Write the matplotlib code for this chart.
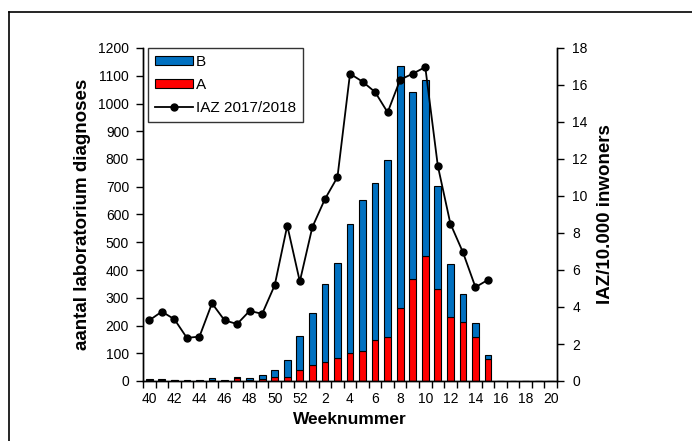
import numpy as np
import matplotlib
matplotlib.use("Agg")
import matplotlib.pyplot as plt
from matplotlib.lines import Line2D

plt.rcParams['font.family'] = ['Liberation Sans', 'DejaVu Sans']

# weeknummers seizoen 2017/2018
weken = list(range(40, 53)) + list(range(1, 21))
# aantal laboratorium diagnoses per week
influenza_a = [3, 3, 2, 1, 1, 4, 1, 10, 3, 6, 14, 14, 38, 58, 70, 83, 100, 107, 148, 159,
               263, 367, 450, 331, 232, 213, 160, 79, 0, 0, 0, 0, 0]
influenza_b = [3, 3, 2, 1, 2, 7, 2, 6, 7, 17, 26, 61, 123, 187, 281, 344, 464, 546, 566, 637,
               873, 675, 633, 370, 190, 101, 48, 15, 0, 0, 0, 0, 0]
# IAZ per 10.000 inwoners
iaz = [3.28, 3.75, 3.34, 2.33, 2.40, 4.20, 3.28, 3.08, 3.79, 3.63, 5.18, 8.40, 5.38,
       8.32, 9.83, 11.02, 16.61, 16.18, 15.62, 14.52, 16.29, 16.61, 16.97, 11.63,
       8.51, 6.96, 5.07, 5.47]

x = np.arange(len(weken))
blauw = '#0070C0'
rood = '#FF0000'

fig = plt.figure(figsize=(6.92, 4.41), dpi=100)
ax = fig.add_axes([143/692, 1-381/441, (557-143)/692, (381-48)/441])
ax2 = ax.twinx()

ax.bar(x, influenza_a, width=0.53, color=rood, edgecolor='black', linewidth=0.8, label='A')
ax.bar(x, influenza_b, width=0.53, bottom=influenza_a, color=blauw, edgecolor='black',
       linewidth=0.8, label='B')
ax2.plot(x[:len(iaz)], iaz, color='black', lw=1.3, marker='o', markersize=5,
         label='IAZ 2017/2018')

ax.set_xlim(-0.5, len(weken)-0.5)
ax.set_ylim(0, 1200)
ax2.set_ylim(0, 18)
ax.set_yticks(range(0, 1201, 100))
ax2.set_yticks(range(0, 19, 2))

ax.set_xticks(x[::2])
ax.set_xticklabels([str(w) for w in weken[::2]])
ax.set_xticks(np.arange(-0.5, len(weken), 1), minor=True)
ax.tick_params(axis='x', which='major', length=0, pad=8, labelsize=10)
ax.tick_params(axis='x', which='minor', length=5, width=1, direction='out')
ax.tick_params(axis='y', length=5, width=1, direction='out', pad=5, labelsize=10)
ax2.tick_params(axis='y', length=5, width=1, direction='out', pad=6, labelsize=10)

for a in (ax, ax2):
    a.spines['top'].set_visible(False)
    for s in a.spines.values():
        s.set_linewidth(1)

ax.set_xlabel('Weeknummer', fontsize=12.5, fontweight='bold', labelpad=4)
ax.set_ylabel('aantal laboratorium diagnoses', fontsize=13.5, fontweight='bold', labelpad=5)
ax2.set_ylabel('IAZ/10.000 inwoners', fontsize=13.5, fontweight='bold', labelpad=7)

h1, l1 = ax.get_legend_handles_labels()
h2, l2 = ax2.get_legend_handles_labels()
leg = ax2.legend([h1[1], h1[0], h2[0]], [l1[1], l1[0], l2[0]], loc='upper left',
                 bbox_to_anchor=(0.012, 1.0), fontsize=11, frameon=True, fancybox=False,
                 edgecolor='black', handlelength=2.5, handleheight=0.5, handletextpad=0.2,
                 labelspacing=0.6, borderpad=0.45, borderaxespad=0)
leg.get_frame().set_linewidth(1)

# kader rond de figuur
fig.add_artist(Line2D([9/692, 1], [1-12/441, 1-12/441], color='black', lw=1.2))
fig.add_artist(Line2D([9/692, 9/692], [0, 1-12/441], color='black', lw=1.2))

fig.savefig('out.png', dpi=100)
